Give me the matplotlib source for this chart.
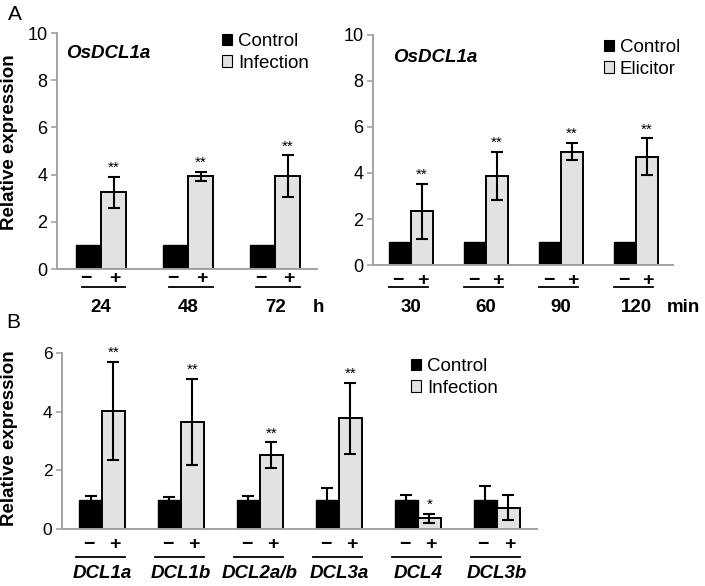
import matplotlib
matplotlib.use('Agg')
import matplotlib.pyplot as plt
import numpy as np
from matplotlib.patches import Patch
from matplotlib.transforms import blended_transform_factory

plt.rcParams['font.family'] = ['Liberation Sans', 'DejaVu Sans']

W, H, DPI = 705, 586, 100

# ---------------- data ----------------
a1_gene = 'OsDCL1a'
a1_groups = ['24', '48', '72']
a1_unit = 'h'
a1_control = [1.0, 1.0, 1.0]
a1_infection = [3.25, 3.92, 3.93]
a1_infection_err = [0.65, 0.20, 0.88]
a1_sig = ['**', '**', '**']

a2_gene = 'OsDCL1a'
a2_groups = ['30', '60', '90', '120']
a2_unit = 'min'
a2_control = [1.0, 1.0, 1.0, 1.0]
a2_elicitor = [2.33, 3.88, 4.92, 4.70]
a2_elicitor_err = [1.18, 1.05, 0.37, 0.80]
a2_sig = ['**', '**', '**', '**']

b_genes = ['DCL1a', 'DCL1b', 'DCL2a/b', 'DCL3a', 'DCL4', 'DCL3b']
b_control = [1.0, 1.0, 1.0, 1.0, 1.0, 1.0]
b_control_err = [0.11, 0.08, 0.11, 0.39, 0.15, 0.48]
b_infection = [4.02, 3.65, 2.52, 3.77, 0.36, 0.73]
b_infection_err = [1.68, 1.48, 0.43, 1.20, 0.15, 0.44]
b_sig = ['**', '**', '**', '**', '*', '']

# ---------------- helpers ----------------
fig = plt.figure(figsize=(W / DPI, H / DPI), dpi=DPI)


def fy(py):
    return 1 - py / H


def fx(px):
    return px / W


def add_axes(l, t, r, b):
    return fig.add_axes([fx(l), fy(b), fx(r) - fx(l), (b - t) / H])


SPINE = '#a3a3a3'
GRAY = '#e2e2e2'
BW = 0.29


def panel(ax, groups, ctrl, ctrl_err, trt, trt_err, sig, ymax, yticks,
          xlim, tick_fs, minus_py, line_py, label_py, line_off, labels,
          italic_labels=False):
    x = np.arange(len(groups))
    ax.bar(x - BW / 2, ctrl, BW, color='black', edgecolor='black',
           linewidth=1.0, zorder=2)
    ax.bar(x + BW / 2, trt, BW, color=GRAY, edgecolor='black',
           linewidth=1.4, zorder=2)
    if ctrl_err is not None:
        ax.errorbar(x - BW / 2, ctrl, yerr=ctrl_err, fmt='none',
                    ecolor='black', elinewidth=1.5, capsize=4.5,
                    capthick=1.5, zorder=3)
    ax.errorbar(x + BW / 2, trt, yerr=trt_err, fmt='none', ecolor='black',
                elinewidth=1.5, capsize=4.5, capthick=1.5, zorder=3)
    for xi, v, e, s in zip(x, trt, trt_err, sig):
        if s:
            ax.annotate(s, (xi + BW / 2, v + e), xytext=(0, 1.5),
                        textcoords='offset points', ha='center',
                        va='bottom', fontsize=11)
    ax.set_ylim(0, ymax)
    ax.set_yticks(yticks)
    ax.set_xlim(*xlim)
    ax.set_xticks([])
    for s in ['top', 'right']:
        ax.spines[s].set_visible(False)
    for s in ['left', 'bottom']:
        ax.spines[s].set_color(SPINE)
        ax.spines[s].set_linewidth(1.4)
    ax.tick_params(axis='y', colors=SPINE, labelcolor='black',
                   labelsize=tick_fs, length=4, width=1.2, pad=3)
    tr = blended_transform_factory(ax.transData, fig.transFigure)
    for xi in x:
        ax.text(xi - 0.17, fy(minus_py), '\u2212', transform=tr,
                ha='center', va='center', fontsize=14, fontweight='bold')
        ax.text(xi + 0.16, fy(minus_py), '+', transform=tr,
                ha='center', va='center', fontsize=14, fontweight='bold')
        ax.plot([xi + line_off[0], xi + line_off[1]],
                [fy(line_py), fy(line_py)], transform=tr, color='black',
                lw=1.3, clip_on=False)
    for xi, lab in zip(x, labels):
        ax.text(xi, fy(label_py), lab, transform=tr, ha='center',
                va='center', fontsize=13.5, fontweight='bold',
                fontstyle='italic' if italic_labels else 'normal')


def legend(ax, names, fs, anchor_px):
    handles = [Patch(facecolor='black', edgecolor='black', linewidth=0.8),
               Patch(facecolor=GRAY, edgecolor='black', linewidth=0.8)]
    ax.legend(handles, names, loc='upper left',
              bbox_to_anchor=(fx(anchor_px[0]), fy(anchor_px[1])),
              bbox_transform=fig.transFigure, frameon=False, fontsize=fs,
              handlelength=0.55, handleheight=0.55, handletextpad=0.3,
              labelspacing=0.25, borderpad=0, borderaxespad=0)


# ---------------- Panel A left ----------------
ax1 = add_axes(57, 33, 317, 269)
panel(ax1, a1_groups, a1_control, None, a1_infection, a1_infection_err,
      a1_sig, 10, [0, 2, 4, 6, 8, 10], (-0.506, 2.48), 13,
      279, 287, 308, (-0.22, 0.28), a1_groups)
ax1.text(fx(66), fy(53), a1_gene, transform=fig.transFigure, ha='left',
         va='center', fontsize=13.5, fontweight='bold', fontstyle='italic')
legend(ax1, ['Control', 'Infection'], 13.5, (222, 33))
fig.text(fx(318), fy(308), a1_unit, ha='center', va='center',
         fontsize=13.5, fontweight='bold')

# ---------------- Panel A right ----------------
ax2 = add_axes(373, 35, 673, 265)
panel(ax2, a2_groups, a2_control, None, a2_elicitor, a2_elicitor_err,
      a2_sig, 10, [0, 2, 4, 6, 8, 10], (-0.507, 3.49), 13,
      280, 287, 308, (-0.29, 0.22), a2_groups)
ax2.text(fx(393), fy(57), a2_gene, transform=fig.transFigure, ha='left',
         va='center', fontsize=13.5, fontweight='bold', fontstyle='italic')
legend(ax2, ['Control', 'Elicitor'], 13.5, (604, 39))
fig.text(fx(683), fy(308), a2_unit, ha='center', va='center',
         fontsize=13.5, fontweight='bold')

# ---------------- Panel B ----------------
ax3 = add_axes(62, 353, 537, 529)
panel(ax3, b_genes, b_control, b_control_err, b_infection, b_infection_err,
      b_sig, 6, [0, 2, 4, 6], (-0.506, 5.51), 12.5,
      545, 557, 573, (-0.33, 0.29), b_genes, italic_labels=True)
legend(ax3, ['Control', 'Infection'], 13.5, (411, 358))

# ---------------- labels ----------------
fig.text(fx(10), fy(142), 'Relative expression', rotation=90, ha='center',
         va='center', fontsize=13.5, fontweight='bold')
fig.text(fx(10), fy(438), 'Relative expression', rotation=90, ha='center',
         va='center', fontsize=13.5, fontweight='bold')
fig.text(fx(15), fy(15), 'A', ha='center', va='center', fontsize=15)
fig.text(fx(13), fy(323), 'B', ha='center', va='center', fontsize=15)

fig.savefig('out.png', dpi=DPI)
